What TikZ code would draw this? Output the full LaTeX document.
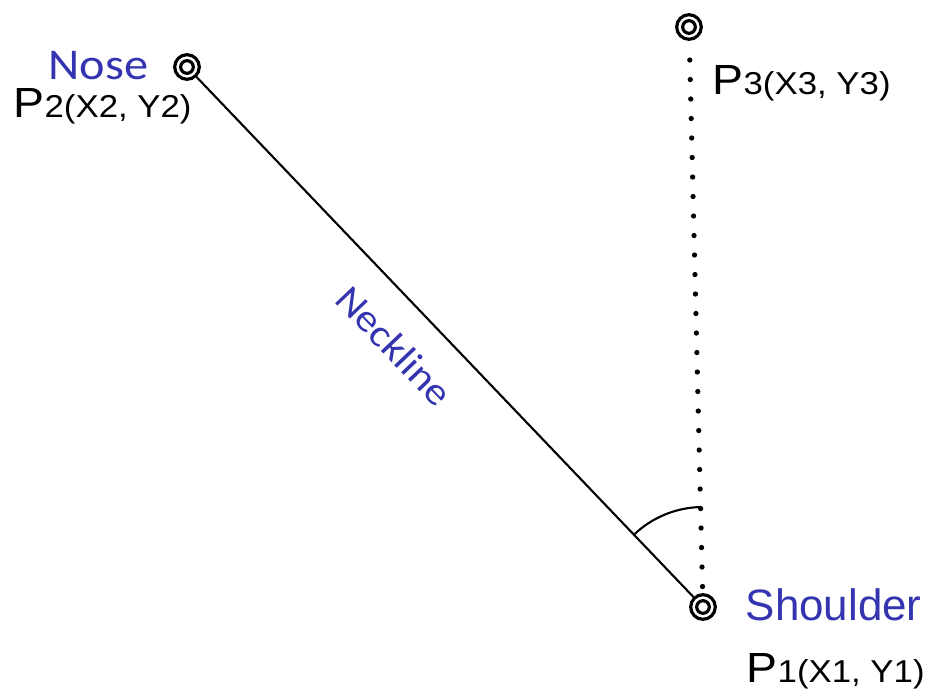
\documentclass[tikz,border=0pt]{standalone}
\usepackage{fontspec}
\newfontfamily\namefont{Carlito}[FakeStretch=1.1]
\newfontfamily\pointfont{Liberation Sans}[FakeStretch=1.1]
\newfontfamily\plainsans{Liberation Sans}
\definecolor{labelBlue}{HTML}{3434B0}
\newcommand{\pointlabel}[1]{{\fontsize{12}{14}\selectfont P}{\fontsize{9}{10}\selectfont #1(X#1, Y#1)}}

\begin{document}
\begin{tikzpicture}[
    joint/.style={circle, draw, line width=0.9pt, minimum size=7pt, inner sep=0pt,
        path picture={\draw[line width=0.9pt] (path picture bounding box.center) circle (1.8pt);}},
    partname/.style={text=labelBlue, inner sep=0pt, font=\namefont\fontsize{11}{13}\selectfont},
    coordlabel/.style={inner sep=0pt, anchor=base west, font=\pointfont}
]
    \useasboundingbox (0,0) rectangle (9.32,-6.96);

    % key points
    \node[joint] (nose) at (1.87,-0.67) {};
    \node[joint] (top) at (6.89,-0.27) {};
    \node[joint] (shoulder) at (7.03,-6.07) {};

    % labels
    \node[partname, anchor=base west, font=\namefont\fontsize{12.5}{14}\selectfont] (noselabel) at (0.48,-0.80) {Nose};
    \node[partname, anchor=base west, font=\plainsans\fontsize{12.5}{14}\selectfont] (shoulderlabel) at (7.45,-6.20) {Shoulder};
    \node[coordlabel] (ptwo) at (0.13,-1.18) {\pointlabel{2}};
    \node[coordlabel] (pthree) at (7.12,-0.95) {\pointlabel{3}};
    \node[coordlabel] (pone) at (7.46,-6.82) {\pointlabel{1}};

    % lines and angle
    \draw[line width=0.6pt] (nose) -- node[partname, pos=0.46, sloped, below=8pt] (necklabel) {Neckline} (shoulder);
    \draw[line width=1.5pt, line cap=round, dash pattern=on 0pt off 5.55pt, dash phase=0.1pt] (top) -- (shoulder);
    \draw[line width=0.6pt] ([shift={(133.7:1cm)}]shoulder.center) arc[start angle=133.7, end angle=91.3, radius=1cm];
\end{tikzpicture}
\end{document}
